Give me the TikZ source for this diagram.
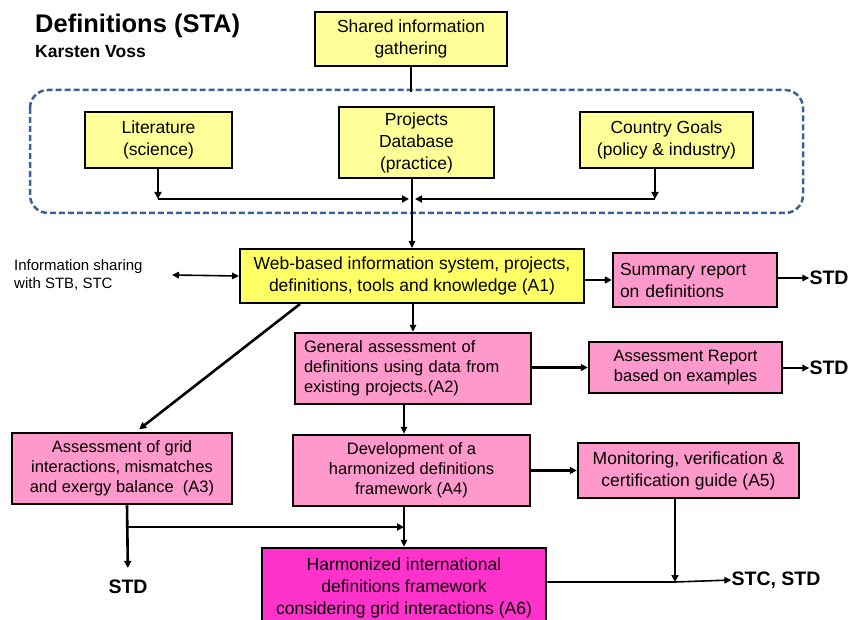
\documentclass[tikz,border=0pt]{standalone}
\usepackage{fontspec}
\setmainfont{Liberation Sans}
\usetikzlibrary{arrows.meta}

\definecolor{lightyel}{HTML}{FFFF99}
\definecolor{brightyel}{HTML}{FFFF66}
\definecolor{boxpink}{HTML}{FF99CC}
\definecolor{boxmag}{HTML}{FF33CC}
\definecolor{dashblue}{HTML}{3B6196}

\begin{document}
\begin{tikzpicture}[x=1pt,y=-1pt]
                \tikzstyle{every node}+=[inner sep=0pt]
                \tikzstyle{box}=[draw=black, line width=2.5pt, align=center, font=\fontsize{17.5}{22}\selectfont]
                \tikzstyle{smallbox}=[box, font=\fontsize{16.5}{20}\selectfont]
                \tikzstyle{arr}=[line width=2.6pt, -{Triangle[length=7pt,width=7pt]}]
                \tikzstyle{tarr}=[line width=1.6pt, -{Triangle[length=7pt,width=6.5pt]}]
                \tikzstyle{outtxt}=[font=\fontsize{19.5}{22}\selectfont\bfseries]
                \clip (0,0) rectangle (851,620);
                \node [anchor=west, font=\fontsize{25.5}{28}\selectfont\bfseries] (title) at (35,26) {Definitions (STA)};
                \node [anchor=west, font=\fontsize{17.5}{20}\selectfont\bfseries] (author) at (35,52) {Karsten Voss};
                \draw [dashblue, line width=2.5pt, dash pattern=on 6pt off 3pt, rounded corners=18pt] (30,90) rectangle (803,213);
                \node [box, fill=lightyel, minimum width=192pt, minimum height=54pt] (shared) at (411,39) {Shared information\\gathering};
                \node [box, fill=lightyel, line width=1.8pt, minimum width=147pt, minimum height=56pt] (lit) at (158.5,140) {Literature\\(science)};
                \node [box, fill=lightyel, minimum width=155pt, minimum height=71pt] (proj) at (416.5,142.5) {Projects\\Database\\(practice)};
                \node [box, fill=lightyel, line width=1.8pt, minimum width=173pt, minimum height=56pt] (goals) at (666.5,140) {Country Goals\\(policy \& industry)};
                \node [box, fill=brightyel, line width=2pt, minimum width=344pt, minimum height=54pt] (web) at (412,276) {Web-based information system, projects,\\definitions, tools and knowledge (A1)};
                \node [anchor=west, align=left, font=\fontsize{15}{18}\selectfont] (info) at (14,275) {Information sharing\\with STB, STC};
                \node [box, fill=boxpink, align=left, minimum width=164pt, minimum height=54pt, text width=150pt] (summary) at (695,280) {Summary report\\on definitions};
                \node [outtxt] (std1) at (829,278) {STD};
                \node [smallbox, fill=boxpink, align=left, minimum width=236pt, minimum height=71pt, text width=218pt] (a2) at (413,368.5) {General assessment of\\definitions using data from\\existing projects.(A2)};
                \node [smallbox, fill=boxpink, minimum width=193pt, minimum height=51pt] (report) at (685.5,367.5) {Assessment Report\\based on examples};
                \node [outtxt] (std2) at (829,368) {STD};
                \node [smallbox, fill=boxpink, minimum width=220pt, minimum height=71pt] (a3) at (122,468.5) {Assessment of grid\\interactions, mismatches\\and exergy balance~~(A3)};
                \node [smallbox, fill=boxpink, minimum width=237pt, minimum height=71pt] (a4) at (411.5,470.5) {Development of a\\harmonized definitions\\framework (A4)};
                \node [box, fill=boxpink, minimum width=221pt, minimum height=55pt] (a5) at (688.5,470.5) {Monitoring, verification \&\\certification guide (A5)};
                \node [box, fill=boxmag, minimum width=284pt, minimum height=80pt] (a6) at (404,588) {Harmonized international\\definitions framework\\considering grid interactions (A6)};
                \node [outtxt] (std3) at (128,587) {STD};
                \node [outtxt] (stc) at (776,580) {STC, STD};
                \coordinate (gtop) at (411,92);
                \coordinate (litc) at (158,199);
                \coordinate (mergel) at (409,199);
                \coordinate (goalc) at (655,199);
                \coordinate (merger) at (415,199);
                \coordinate (infoc) at (172,275);
                \coordinate (a3j) at (127,527);
                \coordinate (a4j) at (404,527);
                \coordinate (a5j) at (675,582);
                \draw [line width=1.6pt] (shared) -- (gtop);
                \draw [arr] (lit.south -| litc) -- (litc);
                \draw [arr] (litc) -- (mergel);
                \draw [arr] (goals.south -| goalc) -- (goalc);
                \draw [arr] (goalc) -- (merger);
                \draw [tarr] (proj.south -| web.north) -- (web.north);
                \draw [line width=1.6pt, {Triangle[length=7pt,width=6.5pt]}-{Triangle[length=7pt,width=6.5pt]}] (infoc) -- (web.west);
                \draw [arr] (web.east |- summary.west) -- (summary.west);
                \draw [tarr] (summary.east |- std1.west) -- (std1.west);
                \draw [tarr] (web.south -| a2.north) -- (a2.north);
                \draw [arr, shorten >=4pt] ([xshift=-112pt]web.south) -- ([xshift=14pt]a3.north);
                \draw [arr] (a2.east |- report.west) -- (report.west);
                \draw [tarr] (report.east |- std2.west) -- (std2.west);
                \draw [tarr] (a2.south -| a4j) -- (a4.north -| a4j);
                \draw [arr] (a4.east |- a5.west) -- (a5.west);
                \draw [arr, shorten >=12pt] (a3.south -| a3j) -- (std3.north);
                \draw [arr] (a3j) -- (a4j);
                \draw [tarr] (a4.south -| a4j) -- (a6.north -| a4j);
                \draw [arr] (a5.south -| a5j) -- (a5j);
                \draw [tarr] (a6.east |- a5j) -- (a5j) -- (stc.west);
\end{tikzpicture}
\end{document}
